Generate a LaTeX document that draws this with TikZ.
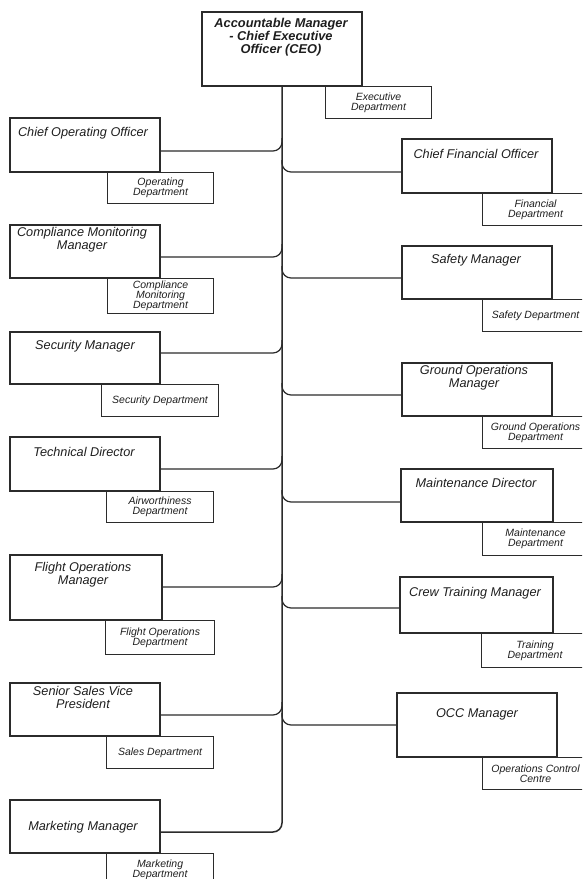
\documentclass[tikz,border=0pt]{standalone}
\usepackage{fontspec}
\setmainfont{Liberation Sans}

\definecolor{orgLine}{HTML}{2B2B2B}
\definecolor{orgText}{HTML}{1E1E1E}

\tikzset{
  mgrbox/.style={draw=orgLine,line width=1.2pt,minimum width=150pt,minimum height=54pt,inner sep=0pt},
  deptbox/.style={draw=orgLine,line width=1.1pt,anchor=north west,minimum width=106pt,minimum height=32pt,inner sep=0pt,align=center,text=orgText,font=\itshape\fontsize{10.5}{10}\selectfont},
  title/.style={align=center,text=orgText,inner sep=0pt,font=\itshape\fontsize{12.7}{12.7}\selectfont},
  branch/.style={draw=orgLine,line width=1.2pt,rounded corners=9pt}
}

\begin{document}
\begin{tikzpicture}[x=1pt,y=-1pt]
  \path[use as bounding box,clip] (0,0) rectangle (582,879);

  % top
  \node[mgrbox,minimum width=160pt,minimum height=74pt] (ceo) at (282,49) {};
  \node[title,font=\bfseries\itshape\fontsize{12.8}{12.7}\selectfont] (ceotxt) at (281,37) {Accountable Manager\\- Chief Executive\\Officer (CEO)};
  \node[deptbox] (execdept) at (325,86) {Executive\\Department};

  % left column
  \node[mgrbox] (coo) at (85,145) {};
  \node[title] (cootxt) at (83,133) {Chief Operating Officer};
  \node[deptbox,minimum height=31pt] (oprdept) at (107,172) {Operating\\Department};
  \draw[branch] (ceo.south |- 0,138) |- (coo.east |- 0,151);

  \node[mgrbox,minimum height=53pt] (cmm) at (85,251.5) {};
  \node[title] (cmmtxt) at (82,239.5) {Compliance Monitoring\\Manager};
  \node[deptbox,minimum height=35pt] (cmmdept) at (107,278) {Compliance\\Monitoring\\Department};
  \draw[branch] (ceo.south |- 0,244) |- (cmm.east |- 0,257);

  \node[mgrbox,minimum height=52pt] (sec) at (85,358) {};
  \node[title] (sectxt) at (85,346) {Security Manager};
  \node[deptbox,minimum width=117pt] (secdept) at (101,384) {Security Department};
  \draw[branch] (ceo.south |- 0,340) |- (sec.east |- 0,353);

  \node[mgrbox] (tech) at (85,464) {};
  \node[title] (techtxt) at (84,452) {Technical Director};
  \node[deptbox,minimum width=107pt,minimum height=31pt] (airdept) at (106,491) {Airworthiness\\Department};
  \draw[branch] (ceo.south |- 0,456) |- (tech.east |- 0,469);

  \node[mgrbox,minimum width=152pt,minimum height=65pt] (flt) at (86,587.5) {};
  \node[title] (flttxt) at (83,574.5) {Flight Operations\\Manager};
  \node[deptbox,minimum width=109pt,minimum height=34pt] (fltdept) at (105,620) {Flight Operations\\Department};
  \draw[branch] (ceo.south |- 0,574) |- (flt.east |- 0,587);

  \node[mgrbox,minimum height=53pt] (sales) at (85,709.5) {};
  \node[title] (salestxt) at (83,697.5) {Senior Sales Vice\\President};
  \node[deptbox,minimum width=107pt] (salesdept) at (106,736) {Sales Department};
  \draw[branch] (ceo.south |- 0,702) |- (sales.east |- 0,715);

  \node[mgrbox,minimum height=53pt] (mkt) at (85,826.5) {};
  \node[title] (mkttxt) at (83,827) {Marketing Manager};
  \node[deptbox,minimum width=107pt] (mktdept) at (106,853) {Marketing\\Department};
  \draw[branch,line width=1.5pt] (ceo.south) |- (mkt.east |- 0,832);

  % right column
  \node[mgrbox] (cfo) at (477,166) {};
  \node[title] (cfotxt) at (476,154) {Chief Financial Officer};
  \node[deptbox] (findept) at (482,193) {Financial\\Department};
  \draw[branch] (ceo.south |- 0,160) |- (cfo.west |- 0,172);

  \node[mgrbox,minimum height=53pt] (safe) at (477,272.5) {};
  \node[title] (safetxt) at (476,260) {Safety Manager};
  \node[deptbox] (safedept) at (482,299) {Safety Department};
  \draw[branch] (ceo.south |- 0,266) |- (safe.west |- 0,278);

  \node[mgrbox,minimum height=53pt] (gnd) at (477,389.5) {};
  \node[title] (gndtxt) at (474,378) {Ground Operations\\Manager};
  \node[deptbox] (gnddept) at (482,416) {Ground Operations\\Department};
  \draw[branch] (ceo.south |- 0,383) |- (gnd.west |- 0,395);

  \node[mgrbox,minimum width=152pt,minimum height=53pt] (mnt) at (477,495.5) {};
  \node[title] (mnttxt) at (476,483) {Maintenance Director};
  \node[deptbox,minimum height=33pt] (mntdept) at (482,522) {Maintenance\\Department};
  \draw[branch] (ceo.south |- 0,490) |- (mnt.west |- 0,502);

  \node[mgrbox,minimum width=153pt,minimum height=56pt] (crew) at (476.5,605) {};
  \node[title] (crewtxt) at (475,593) {Crew Training Manager};
  \node[deptbox,minimum width=107pt,minimum height=34pt] (trndept) at (481,633) {Training\\Department};
  \draw[branch] (ceo.south |- 0,596) |- (crew.west |- 0,608);

  \node[mgrbox,minimum width=160pt,minimum height=64pt] (occ) at (477,725) {};
  \node[title] (occtxt) at (477,714) {OCC Manager};
  \node[deptbox] (occdept) at (482,757) {Operations Control\\Centre};
  \draw[branch] (ceo.south |- 0,713) |- (occ.west |- 0,725);
\end{tikzpicture}
\end{document}
